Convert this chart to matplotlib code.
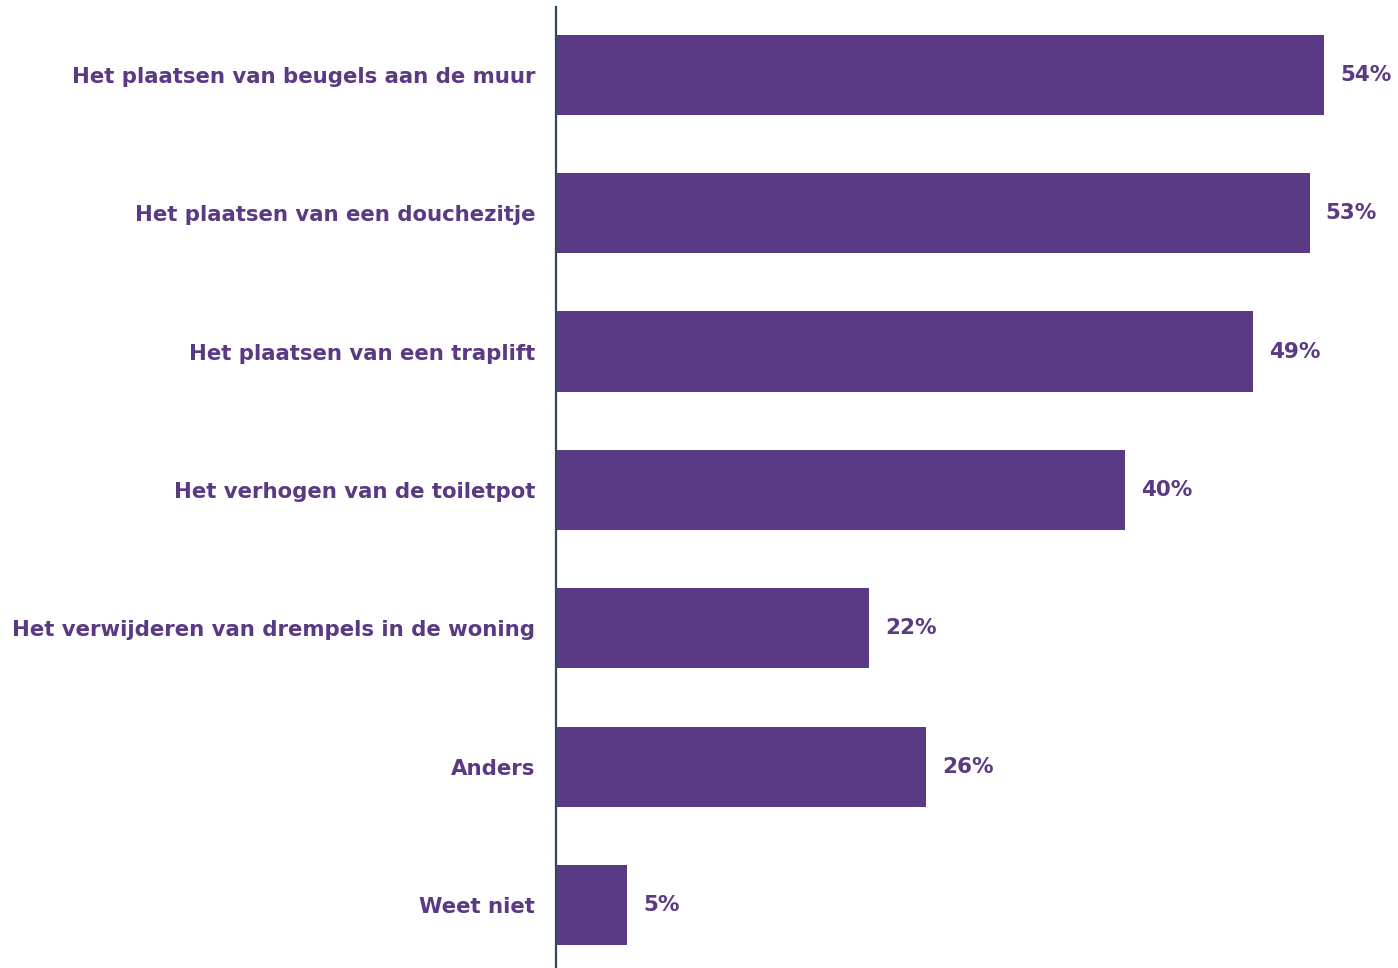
import matplotlib
matplotlib.use("Agg")
import matplotlib.pyplot as plt

categories = [
    "Het plaatsen van beugels aan de muur",
    "Het plaatsen van een douchezitje",
    "Het plaatsen van een traplift",
    "Het verhogen van de toiletpot",
    "Het verwijderen van drempels in de woning",
    "Anders",
    "Weet niet",
]
values = [54, 53, 49, 40, 22, 26, 5]
value_labels = ["54%", "53%", "49%", "40%", "22%", "26%", "5%"]

purple = "#5B3A84"
axis_col = "#2E4A62"

fig = plt.figure(figsize=(13.98, 9.68), dpi=100)
ax = fig.add_axes([556 / 1398, 0, (1398 - 556) / 1398, (968 - 7) / 968])

y = list(range(len(categories)))
ax.barh(y, values, height=0.58, color=purple)
ax.set_ylim(6.455, -0.49)
ax.set_xlim(0, 59.2)

for spine in ["top", "right", "bottom"]:
    ax.spines[spine].set_visible(False)
ax.spines["left"].set_color(axis_col)
ax.spines["left"].set_linewidth(1.6)
ax.set_xticks([])
ax.set_yticks(y)
ax.set_yticklabels(categories, fontsize=15.3, fontweight="bold", color=purple,
                   family="DejaVu Sans")
ax.tick_params(axis="y", length=0, pad=15)

for yi, v, lab in zip(y, values, value_labels):
    ax.annotate(lab, xy=(v, yi), xytext=(11.5, 0), textcoords="offset points",
                ha="left", va="center", fontsize=15.5, fontweight="bold",
                color=purple, family="DejaVu Sans")

fig.savefig("out.png", dpi=100)
